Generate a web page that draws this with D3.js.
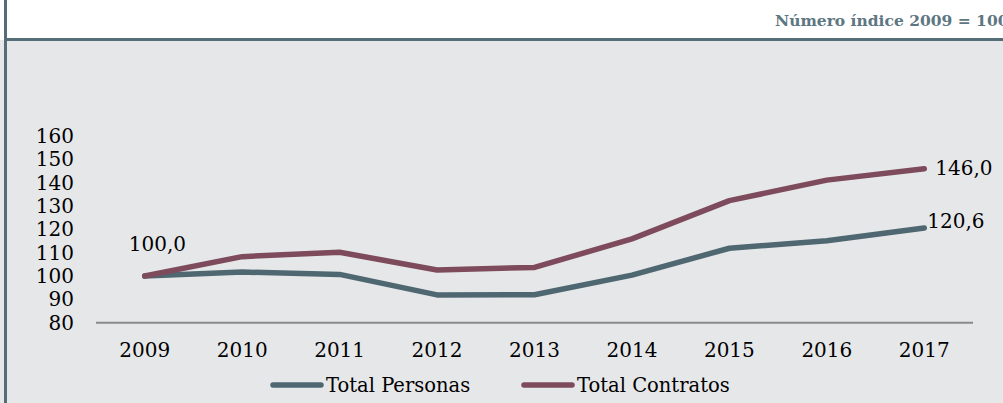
<!DOCTYPE html>
<html>
<head>
<meta charset="utf-8">
<script src="https://cdn.jsdelivr.net/npm/d3@7"></script>
<style>
  html, body { margin: 0; padding: 0; background: #fff; }
  svg { display: block; font-family: "DejaVu Serif", serif; }
</style>
</head>
<body>
<svg id="chart" width="1003" height="403"></svg>
<script>
// data
const years = ['2009', '2010', '2011', '2012', '2013', '2014', '2015', '2016', '2017'];
const personas = [100.0, 101.7, 100.7, 91.9, 92.0, 100.4, 111.9, 115.1, 120.6];
const contratos = [100.0, 108.3, 110.2, 102.6, 103.7, 115.9, 132.3, 141.1, 146.0];
const yTicks = [80, 90, 100, 110, 120, 130, 140, 150, 160];
const seriesNames = ['Total Personas', 'Total Contratos'];
const colors = ['#4f6771', '#7d4b5b'];

const svg = d3.select('#chart');

// panel background + frame
svg.append('rect').attr('x', 0).attr('y', 40).attr('width', 1003).attr('height', 363).attr('fill', '#e6e7e9');
svg.append('line').attr('x1', 5).attr('x2', 1003).attr('y1', 39.5).attr('y2', 39.5)
  .attr('stroke', '#546d79').attr('stroke-width', 3);
svg.append('line').attr('x1', 5.5).attr('x2', 5.5).attr('y1', 0).attr('y2', 403)
  .attr('stroke', '#546d79').attr('stroke-width', 3);

svg.append('text').attr('x', 775).attr('y', 26)
  .attr('font-size', 15.5).attr('font-weight', 'bold').attr('fill', '#5d7682')
  .text('Número índice 2009 = 100');

const x = d3.scaleBand().domain(years).range([96, 973]);
const y = d3.scaleLinear().domain([80, 160]).range([322.7, 136]);
const cx = d => x(d) + x.bandwidth() / 2;

// baseline
svg.append('line').attr('x1', 96).attr('x2', 973).attr('y1', y(80)).attr('y2', y(80))
  .attr('stroke', '#8a8a8a').attr('stroke-width', 2);

// y tick labels
svg.append('g').selectAll('text').data(yTicks).join('text')
  .attr('x', 74).attr('y', d => y(d)).attr('dy', '0.35em')
  .attr('text-anchor', 'end').attr('font-size', 20).attr('fill', '#000')
  .text(d => d);

// x labels
svg.append('g').selectAll('text').data(years).join('text')
  .attr('x', d => cx(d)).attr('y', 357)
  .attr('text-anchor', 'middle').attr('font-size', 20).attr('fill', '#000')
  .text(d => d);

const line = d3.line().x((d, i) => cx(years[i])).y(d => y(d));

svg.append('g').selectAll('path').data([personas, contratos]).join('path')
  .attr('d', d => line(d))
  .attr('fill', 'none')
  .attr('stroke', (_, i) => colors[i])
  .attr('stroke-width', 5.5)
  .attr('stroke-linecap', 'round')
  .attr('stroke-linejoin', 'round');

// data labels
const fmt = v => v.toFixed(1).replace('.', ',');
const labels = [
  { v: contratos[0], xv: cx(years[0]) - 16, yv: y(contratos[0]) - 25 },
  { v: contratos[8], xv: cx(years[8]) + 11, yv: y(contratos[8]) + 6 },
  { v: personas[8], xv: cx(years[8]) + 3, yv: y(personas[8]) + 0 }
];
svg.append('g').selectAll('text').data(labels).join('text')
  .attr('x', d => d.xv).attr('y', d => d.yv)
  .attr('font-size', 20).attr('fill', '#000')
  .text(d => fmt(d.v));

// legend
const legendX = [273, 524];
const lg = svg.append('g').selectAll('g').data(seriesNames).join('g')
  .attr('transform', (_, i) => `translate(${legendX[i]},385)`);
lg.append('line').attr('x1', 0).attr('x2', 48).attr('y1', 0).attr('y2', 0)
  .attr('stroke', (_, i) => colors[i]).attr('stroke-width', 5.5).attr('stroke-linecap', 'round');
lg.append('text').attr('x', 53).attr('y', 7)
  .attr('font-size', 19.5).attr('fill', '#000')
  .text(d => d);
</script>
</body>
</html>
